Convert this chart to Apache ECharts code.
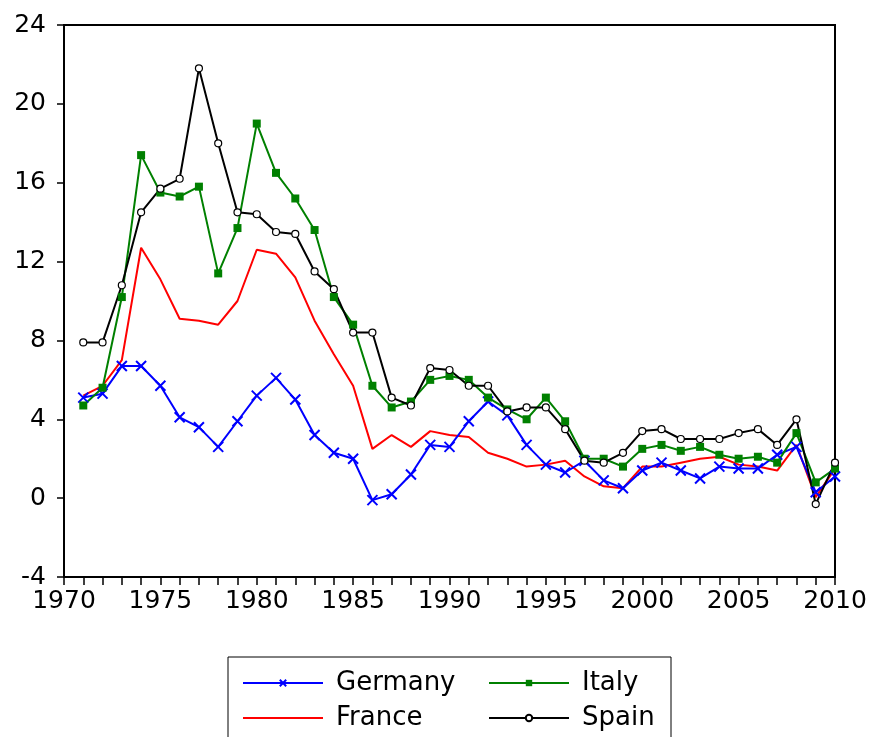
<!DOCTYPE html>
<html>
<head>
<meta charset="utf-8">
<script src="https://cdn.jsdelivr.net/npm/echarts@6/dist/echarts.min.js"></script>
<style>
  html, body { margin: 0; padding: 0; background: #fff; }
  #chart { width: 872px; height: 737px; }
</style>
</head>
<body>
<div id="chart"></div>
<script>
const years = [
  1971, 1972, 1973, 1974, 1975, 1976, 1977, 1978, 1979, 1980,
  1981, 1982, 1983, 1984, 1985, 1986, 1987, 1988, 1989, 1990,
  1991, 1992, 1993, 1994, 1995, 1996, 1997, 1998, 1999, 2000,
  2001, 2002, 2003, 2004, 2005, 2006, 2007, 2008, 2009, 2010
]

const germany = [
  5.1, 5.3, 6.7, 6.7, 5.7, 4.1, 3.6, 2.6, 3.9, 5.2,
  6.1, 5.0, 3.2, 2.3, 2.0, -0.1, 0.2, 1.2, 2.7, 2.6,
  3.9, 4.9, 4.2, 2.7, 1.7, 1.3, 1.9, 0.9, 0.5, 1.4,
  1.8, 1.4, 1.0, 1.6, 1.5, 1.5, 2.2, 2.6, 0.3, 1.1
]

const france = [
  5.2, 5.7, 7.0, 12.7, 11.1, 9.1, 9.0, 8.8, 10.0, 12.6,
  12.4, 11.2, 9.0, 7.3, 5.7, 2.5, 3.2, 2.6, 3.4, 3.2,
  3.1, 2.3, 2.0, 1.6, 1.7, 1.9, 1.1, 0.6, 0.5, 1.6,
  1.6, 1.8, 2.0, 2.1, 1.7, 1.6, 1.4, 2.7, 0.05, 1.5
]

const italy = [
  4.7, 5.6, 10.2, 17.4, 15.5, 15.3, 15.8, 11.4, 13.7, 19.0,
  16.5, 15.2, 13.6, 10.2, 8.8, 5.7, 4.6, 4.9, 6.0, 6.2,
  6.0, 5.1, 4.5, 4.0, 5.1, 3.9, 2.0, 2.0, 1.6, 2.5,
  2.7, 2.4, 2.6, 2.2, 2.0, 2.1, 1.8, 3.3, 0.8, 1.5
]

const spain = [
  7.9, 7.9, 10.8, 14.5, 15.7, 16.2, 21.8, 18.0, 14.5, 14.4,
  13.5, 13.4, 11.5, 10.6, 8.4, 8.4, 5.1, 4.7, 6.6, 6.5,
  5.7, 5.7, 4.4, 4.6, 4.6, 3.5, 1.9, 1.8, 2.3, 3.4,
  3.5, 3.0, 3.0, 3.0, 3.3, 3.5, 2.7, 4.0, -0.3, 1.8
]

const font = 'DejaVu Sans'

const pairs = (vals) => years.map((y, i) => [y, vals[i]])

const chart = echarts.init(document.getElementById('chart'))

const legendText = { color: '#000', fontSize: 26, fontFamily: font, padding: [0, 0, 0, 8] }

const option = {
  backgroundColor: '#fff',
  animation: false,
  grid: {
    left: 64,
    right: 37,
    top: 25,
    bottom: 160,
    show: true,
    borderColor: '#000',
    borderWidth: 2
  },
  xAxis: {
    type: 'value',
    min: 1970,
    max: 2010,
    interval: 5,
    axisLine: { show: true, onZero: false, lineStyle: { color: '#000', width: 2 } },
    axisTick: { show: true, length: 8, lineStyle: { color: '#000', width: 1.5 } },
    minorTick: { show: true, splitNumber: 5, length: 8, lineStyle: { color: '#000', width: 1.5 } },
    splitLine: { show: false },
    axisLabel: {
      color: '#000', fontSize: 25, fontFamily: font, margin: 12,
      formatter: (v) => String(v)
    }
  },
  yAxis: {
    type: 'value',
    min: -4,
    max: 24,
    interval: 4,
    axisLine: { show: true, onZero: false, lineStyle: { color: '#000', width: 2 } },
    axisTick: { show: true, length: 7, lineStyle: { color: '#000', width: 1.5 } },
    splitLine: { show: false },
    axisLabel: { color: '#000', fontSize: 25, fontFamily: font, margin: 18 }
  },
  legend: [
    {
      data: ['Germany', { name: 'France', itemStyle: { opacity: 0 } }],
      orient: 'vertical',
      left: 242,
      top: 670,
      padding: 0,
      itemGap: 9,
      itemWidth: 80,
      itemHeight: 8,
      textStyle: legendText
    },
    {
      data: ['Italy', 'Spain'],
      orient: 'vertical',
      left: 488,
      top: 670,
      padding: 0,
      itemGap: 9,
      itemWidth: 80,
      itemHeight: 8,
      textStyle: legendText
    }
  ],
  graphic: [
    {
      type: 'rect',
      shape: { x: 228, y: 657, width: 443, height: 100 },
      style: { fill: 'none', stroke: '#000', lineWidth: 1 },
      silent: true
    }
  ],
  series: [
    {
      name: 'France',
      type: 'line',
      symbol: 'none',
      lineStyle: { color: '#ff0000', width: 2 },
      itemStyle: { color: '#ff0000' },
      data: pairs(france)
    },
    {
      name: 'Germany',
      type: 'line',
      symbol: 'path://M0,0L10,10M10,0L0,10',
      symbolSize: 10,
      lineStyle: { color: '#0000ff', width: 2 },
      itemStyle: { color: '#0000ff', borderColor: '#0000ff', borderWidth: 2 },
      data: pairs(germany)
    },
    {
      name: 'Italy',
      type: 'line',
      symbol: 'rect',
      symbolSize: 8,
      lineStyle: { color: '#008000', width: 2 },
      itemStyle: { color: '#008000' },
      data: pairs(italy)
    },
    {
      name: 'Spain',
      type: 'line',
      symbol: 'circle',
      symbolSize: 7,
      lineStyle: { color: '#000', width: 2 },
      itemStyle: { color: '#fff', borderColor: '#000', borderWidth: 1.2 },
      data: pairs(spain)
    }
  ]
}

chart.setOption(option)
</script>
</body>
</html>
